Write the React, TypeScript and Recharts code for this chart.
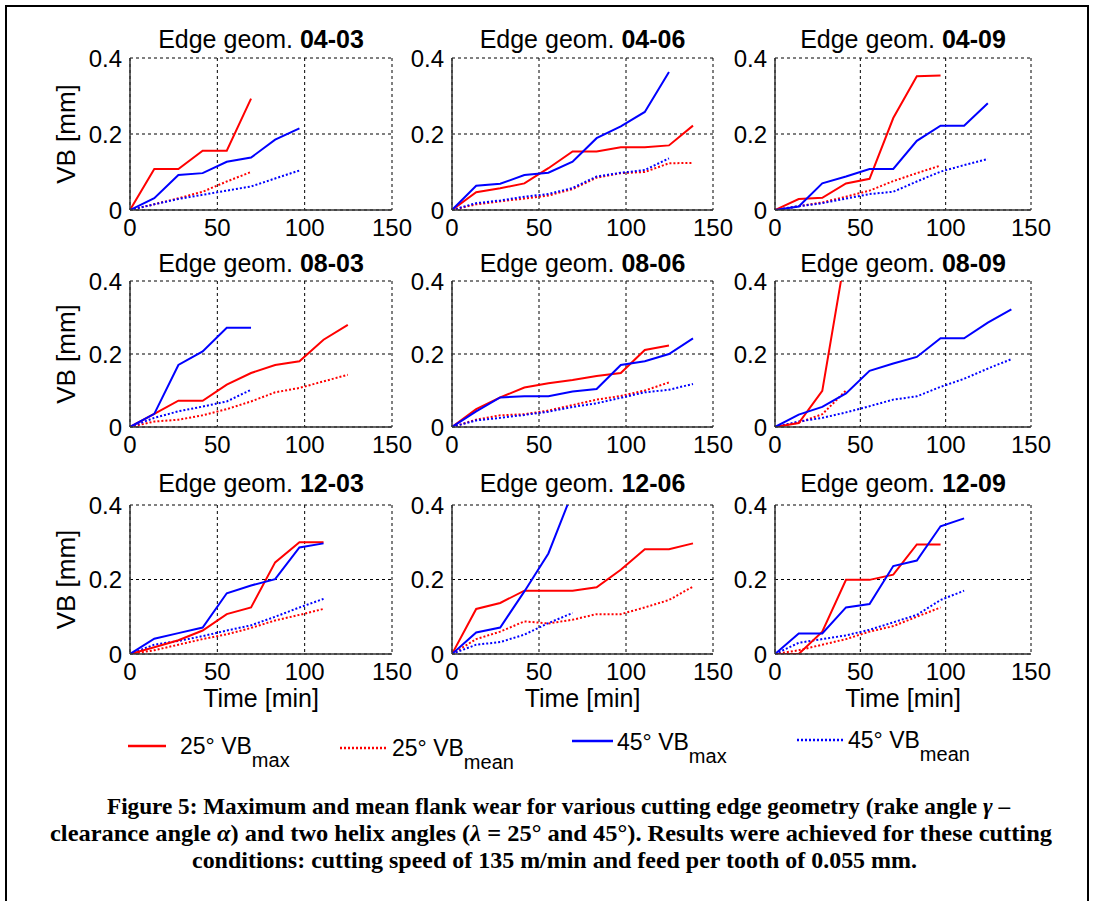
import React from 'react';
import { LineChart, Line, XAxis, YAxis, CartesianGrid } from 'recharts';

// Measurement times [min]
const TIME = [0, 13.9, 27.7, 41.6, 55.4, 69.3, 83.1, 97, 110.8, 124.7, 138.5];
const X_TICKS = [0, 50, 100, 150];
const Y_TICKS = [0, 0.2, 0.4];

// Edge geometry 04-03
const max25_0403 = [0, 0.108, 0.108, 0.156, 0.156, 0.293];
const mean25_0403 = [0, 0.015, 0.031, 0.048, 0.075, 0.1];
const max45_0403 = [0, 0.031, 0.092, 0.097, 0.127, 0.138, 0.185, 0.215];
const mean45_0403 = [0, 0.015, 0.029, 0.04, 0.051, 0.062, 0.083, 0.104];
// 04-06
const max25_0406 = [0, 0.047, 0.057, 0.07, 0.11, 0.154, 0.154, 0.165, 0.165, 0.17, 0.222];
const mean25_0406 = [0, 0.015, 0.023, 0.03, 0.038, 0.055, 0.085, 0.097, 0.1, 0.123, 0.124];
const max45_0406 = [0, 0.064, 0.069, 0.092, 0.098, 0.127, 0.189, 0.22, 0.258, 0.363];
const mean45_0406 = [0, 0.018, 0.025, 0.035, 0.042, 0.058, 0.088, 0.098, 0.105, 0.136];
// 04-09
const max25_0409 = [0, 0.029, 0.032, 0.07, 0.082, 0.242, 0.352, 0.354];
const mean25_0409 = [0, 0.01, 0.02, 0.035, 0.051, 0.076, 0.097, 0.117];
const max45_0409 = [0, 0.009, 0.07, 0.088, 0.108, 0.108, 0.182, 0.222, 0.222, 0.281];
const mean45_0409 = [0, 0.01, 0.018, 0.03, 0.042, 0.048, 0.075, 0.101, 0.118, 0.134];
// 08-03
const max25_0803 = [0, 0.036, 0.072, 0.072, 0.116, 0.148, 0.17, 0.18, 0.239, 0.28];
const mean25_0803 = [0, 0.015, 0.02, 0.032, 0.049, 0.07, 0.095, 0.107, 0.125, 0.143];
const max45_0803 = [0, 0.036, 0.17, 0.207, 0.272, 0.272];
const mean45_0803 = [0, 0.025, 0.043, 0.056, 0.07, 0.102];
// 08-06
const max25_0806 = [0, 0.049, 0.081, 0.108, 0.12, 0.129, 0.14, 0.148, 0.211, 0.223];
const mean25_0806 = [0, 0.02, 0.032, 0.035, 0.045, 0.06, 0.075, 0.085, 0.1, 0.122];
const max45_0806 = [0, 0.043, 0.081, 0.084, 0.084, 0.097, 0.104, 0.17, 0.18, 0.2, 0.243];
const mean45_0806 = [0, 0.018, 0.025, 0.033, 0.042, 0.055, 0.065, 0.08, 0.095, 0.102, 0.118];
// 08-09
const max25_0809 = [0, 0.011, 0.099, 0.482];
const mean25_0809 = [0, 0.012, 0.035, 0.1];
const max45_0809 = [0, 0.034, 0.055, 0.092, 0.154, 0.174, 0.192, 0.243, 0.243, 0.286, 0.322];
const mean45_0809 = [0, 0.015, 0.025, 0.04, 0.057, 0.075, 0.084, 0.11, 0.132, 0.16, 0.186];
// 12-03
const max25_1203 = [0, 0.018, 0.037, 0.063, 0.107, 0.125, 0.246, 0.3, 0.3];
const mean25_1203 = [0, 0.01, 0.025, 0.04, 0.053, 0.07, 0.09, 0.105, 0.121];
const max45_1203 = [0, 0.041, 0.056, 0.071, 0.163, 0.184, 0.201, 0.286, 0.297];
const mean45_1203 = [0, 0.025, 0.035, 0.048, 0.063, 0.077, 0.1, 0.125, 0.148];
// 12-06
const max25_1206 = [0, 0.121, 0.137, 0.17, 0.17, 0.17, 0.179, 0.226, 0.281, 0.281, 0.297];
const mean25_1206 = [0, 0.04, 0.06, 0.0875, 0.082, 0.092, 0.107, 0.107, 0.125, 0.145, 0.181];
const max45_1206 = [0, 0.058, 0.071, 0.168, 0.27, 0.435];
const mean45_1206 = [0, 0.025, 0.032, 0.052, 0.083, 0.11];
// 12-09
const max25_1209 = [0, 0.0, 0.06, 0.199, 0.199, 0.213, 0.294, 0.294];
const mean25_1209 = [0, 0.01, 0.025, 0.04, 0.06, 0.075, 0.1, 0.125];
const max45_1209 = [0, 0.055, 0.055, 0.125, 0.134, 0.236, 0.251, 0.343, 0.364];
const mean45_1209 = [0, 0.03, 0.04, 0.05, 0.065, 0.085, 0.105, 0.145, 0.17];

const PANEL_LABELS = ['04-03', '04-06', '04-09', '08-03', '08-06', '08-09', '12-03', '12-06', '12-09'];
const PANEL_SERIES = [
  [max25_0403, mean25_0403, max45_0403, mean45_0403],
  [max25_0406, mean25_0406, max45_0406, mean45_0406],
  [max25_0409, mean25_0409, max45_0409, mean45_0409],
  [max25_0803, mean25_0803, max45_0803, mean45_0803],
  [max25_0806, mean25_0806, max45_0806, mean45_0806],
  [max25_0809, mean25_0809, max45_0809, mean45_0809],
  [max25_1203, mean25_1203, max45_1203, mean45_1203],
  [max25_1206, mean25_1206, max45_1206, mean45_1206],
  [max25_1209, mean25_1209, max45_1209, mean45_1209],
];

const RED = '#ff0000';
const BLUE = '#0000ff';
const FONT = '"Liberation Sans", Arial, sans-serif';
const SERIF = '"Liberation Serif", "Times New Roman", serif';

// layout
const PLOT_X = [130, 452, 775];
const PLOT_W = [262, 261, 256];
const PLOT_Y = [58, 281, 505];
const PLOT_H = [152, 146, 149];
const TITLE_BASE = [48, 272, 492];
const M_TOP = 12;
const M_RIGHT = 24;
const Y_W = 70;
const X_H = 40;

const buildData = (series: number[][]) => {
  const n = Math.max(...series.map((s) => s.length));
  const rows: any[] = [];
  for (let i = 0; i < n; i++) {
    rows.push({
      t: TIME[i],
      max25: series[0][i],
      mean25: series[1][i],
      max45: series[2][i],
      mean45: series[3][i],
    });
  }
  return rows;
};

const XTick = (props: any) => {
  const { x, y, payload } = props;
  return (
    <text x={x} y={y + 26} textAnchor="middle" fontSize={24} fontFamily={FONT} fill="#000">
      {payload.value}
    </text>
  );
};

const YTick = (props: any) => {
  const { x, y, payload } = props;
  return (
    <text x={x - 8} y={y + 8.5} textAnchor="end" fontSize={24} fontFamily={FONT} fill="#000">
      {payload.value}
    </text>
  );
};

const Panel = ({ idx }: { idx: number }) => {
  const col = idx % 3;
  const row = Math.floor(idx / 3);
  const w = Y_W + PLOT_W[col] + M_RIGHT;
  const h = M_TOP + PLOT_H[row] + X_H;
  const data = buildData(PANEL_SERIES[idx]);
  return (
    <div style={{ position: 'absolute', left: PLOT_X[col] - Y_W, top: PLOT_Y[row] - M_TOP }}>
      <LineChart width={w} height={h} data={data} margin={{ top: M_TOP, right: M_RIGHT, bottom: 0, left: 0 }}>
        <CartesianGrid stroke="#000" strokeDasharray="3 3" strokeWidth={1} />
        <XAxis
          dataKey="t"
          type="number"
          domain={[0, 150]}
          ticks={X_TICKS}
          allowDataOverflow
          height={X_H}
          tickLine={false}
          tickSize={0}
          tickMargin={0}
          axisLine={{ stroke: '#333', strokeWidth: 1.5 }}
          tick={<XTick />}
          interval={0}
        />
        <YAxis
          type="number"
          domain={[0, 0.4]}
          ticks={Y_TICKS}
          allowDataOverflow
          width={Y_W}
          tickLine={false}
          tickSize={0}
          tickMargin={0}
          axisLine={{ stroke: '#333', strokeWidth: 1.5 }}
          tick={<YTick />}
          interval={0}
        />
        <Line type="linear" dataKey="mean25" stroke={RED} strokeWidth={2} strokeDasharray="2 2" dot={false} isAnimationActive={false} />
        <Line type="linear" dataKey="mean45" stroke={BLUE} strokeWidth={2} strokeDasharray="2 2" dot={false} isAnimationActive={false} />
        <Line type="linear" dataKey="max25" stroke={RED} strokeWidth={2} dot={false} isAnimationActive={false} />
        <Line type="linear" dataKey="max45" stroke={BLUE} strokeWidth={2} dot={false} isAnimationActive={false} />
      </LineChart>
    </div>
  );
};

const LEGEND = [
  { name: '25° VB', sub: 'max', color: RED, dash: undefined, x1: 128, x2: 166, ly: 746, tx: 180, base: 754 },
  { name: '25° VB', sub: 'mean', color: RED, dash: '2 2', x1: 340, x2: 386, ly: 748, tx: 392, base: 756 },
  { name: '45° VB', sub: 'max', color: BLUE, dash: undefined, x1: 572, x2: 613, ly: 741, tx: 617, base: 750 },
  { name: '45° VB', sub: 'mean', color: BLUE, dash: '2 2', x1: 797, x2: 843, ly: 740, tx: 848, base: 748 },
];

export default function App() {
  return (
    <div style={{ position: 'absolute', left: 0, top: 0, width: 1094, height: 901, background: '#fff', overflow: 'hidden' }}>
      {PANEL_LABELS.map((_, i) => (
        <Panel key={i} idx={i} />
      ))}
      <svg width={1094} height={901} style={{ position: 'absolute', left: 0, top: 0, pointerEvents: 'none' }}>
        <rect x={6} y={6} width={1082} height={930} fill="none" stroke="#000" strokeWidth={2} />
        {PANEL_LABELS.map((lab, i) => {
          const col = i % 3;
          const row = Math.floor(i / 3);
          return (
            <text key={lab} x={PLOT_X[col] + PLOT_W[col] / 2} y={TITLE_BASE[row]} textAnchor="middle" fontSize={25} fontFamily={FONT} fill="#000">
              Edge geom. <tspan fontWeight="bold">{lab}</tspan>
            </text>
          );
        })}
        {PLOT_Y.map((py, r) => (
          <text key={'vb' + r} transform={`translate(75, ${py + PLOT_H[r] / 2}) rotate(-90)`} textAnchor="middle" fontSize={26} fontFamily={FONT} fill="#000">
            VB [mm]
          </text>
        ))}
        {PLOT_X.map((px, c) => (
          <text key={'tm' + c} x={px + PLOT_W[c] / 2} y={707} textAnchor="middle" fontSize={25} fontFamily={FONT} fill="#000">
            Time [min]
          </text>
        ))}
        {LEGEND.map((l, i) => (
          <g key={'lg' + i}>
            <line x1={l.x1} x2={l.x2} y1={l.ly} y2={l.ly} stroke={l.color} strokeWidth={2.5} strokeDasharray={l.dash} />
            <text x={l.tx} y={l.base} fontSize={23} fontFamily={FONT} fill="#000">
              {l.name}
              <tspan fontSize={20} dy={13}>{l.sub}</tspan>
            </text>
          </g>
        ))}
        <g fontFamily={SERIF} fontWeight="bold" fontSize={22.5} fill="#000">
          <text x={107} y={814} textLength={903} lengthAdjust="spacingAndGlyphs">
            Figure 5: Maximum and mean flank wear for various cutting edge geometry (rake angle <tspan fontStyle="italic">γ</tspan> –
          </text>
          <text x={50} y={841} textLength={1002} lengthAdjust="spacingAndGlyphs">
            clearance angle <tspan fontStyle="italic">α</tspan>) and two helix angles (<tspan fontStyle="italic">λ</tspan> = 25° and 45°). Results were achieved for these cutting
          </text>
          <text x={192} y={868} textLength={725} lengthAdjust="spacingAndGlyphs">
            conditions: cutting speed of 135 m/min and feed per tooth of 0.055 mm.
          </text>
        </g>
      </svg>
    </div>
  );
}
